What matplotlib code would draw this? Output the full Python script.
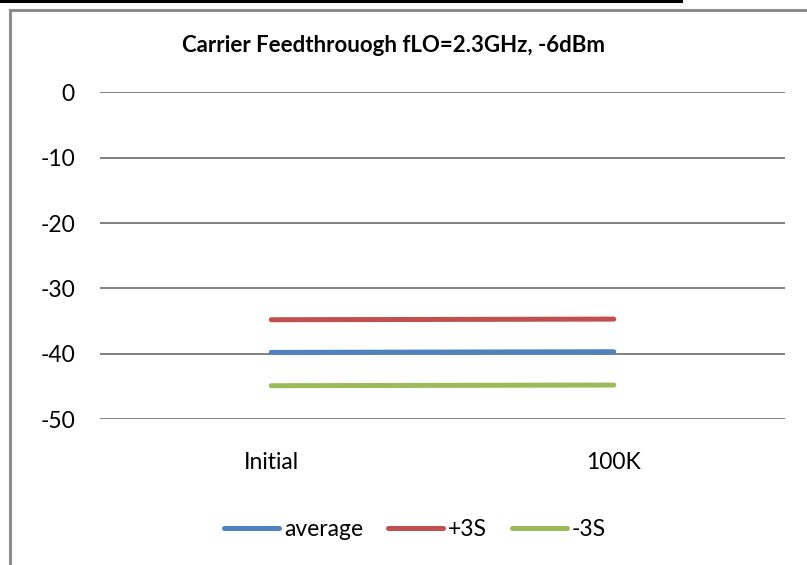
import matplotlib.pyplot as plt
from matplotlib.patches import Rectangle

categories = ["Initial", "100K"]
average = [-39.8, -39.7]
plus_3s = [-34.8, -34.7]
minus_3s = [-44.9, -44.8]
yticks = [0, -10, -20, -30, -40, -50]

W, H = 807, 565
plt.rcParams["font.family"] = ["Lato", "DejaVu Sans"]

fig = plt.figure(figsize=(W / 100, H / 100), dpi=100)
fig.patch.set_facecolor("white")

# chart frame and the rule above it
fig.patches.append(Rectangle((10 / W, -0.1), 1.2, 1 - 10 / H + 0.1,
                             transform=fig.transFigure, fill=False,
                             edgecolor="#8c8c8c", linewidth=2.2, zorder=0))
fig.patches.append(Rectangle((0, 1 - 2.5 / H), 683 / W, 2.5 / H,
                             transform=fig.transFigure, facecolor="black",
                             edgecolor="none", zorder=0))

ax = fig.add_axes([100 / W, 1 - 419 / H, 685 / W, (419 - 92.5) / H])
ax.set_facecolor("none")

x = range(len(categories))
ax.plot(x, average, color="#4F81BD", lw=3.6, solid_capstyle="round", label="average", zorder=3)
ax.plot(x, plus_3s, color="#C0504D", lw=3.6, solid_capstyle="round", label="+3S", zorder=3)
ax.plot(x, minus_3s, color="#9BBB59", lw=3.6, solid_capstyle="round", label="-3S", zorder=3)

ax.set_xlim(-0.5, 1.5)
ax.set_ylim(-50, 0)
ax.set_yticks(yticks)
ax.set_yticklabels([str(v) for v in yticks])
ax.set_xticks(list(x))
ax.set_xticklabels(categories)
ax.tick_params(axis="both", length=0, labelsize=16.5, colors="black")
ax.tick_params(axis="y", pad=18)
ax.tick_params(axis="x", pad=24)
ax.yaxis.grid(True, color="#808080", linewidth=1.4)
ax.set_axisbelow(True)
for s in ax.spines.values():
    s.set_visible(False)

fig.text(393 / W, 1 - 45 / H, "Carrier Feedthrouogh fLO=2.3GHz, -6dBm",
         ha="center", va="center", fontsize=16, fontweight="bold")

fig.legend(loc="center", bbox_to_anchor=(415 / W, 1 - 530 / H), ncol=3,
           frameon=False, fontsize=16.5, handlelength=2.4, handletextpad=0.2,
           columnspacing=1.1, borderpad=0)

fig.savefig("out.png", dpi=100, facecolor="white")
